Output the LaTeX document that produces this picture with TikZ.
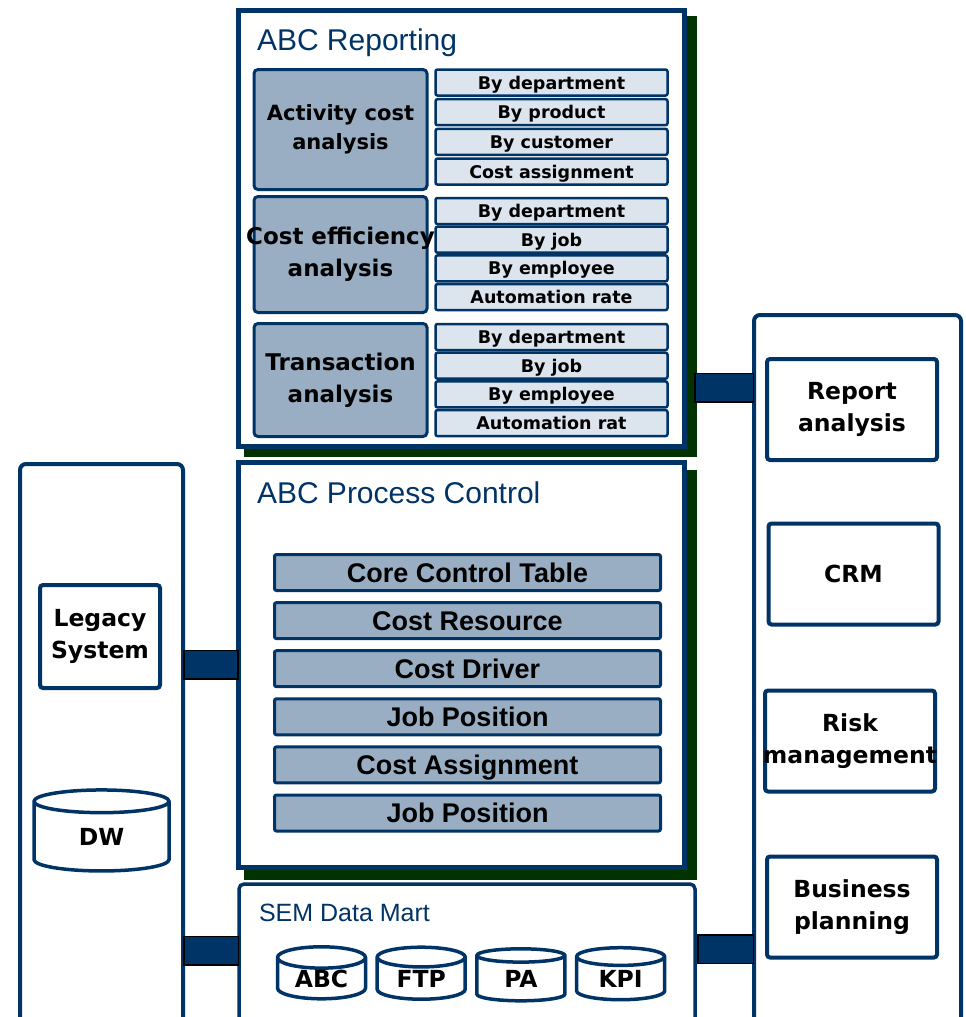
\documentclass[tikz,border=0pt]{standalone}
\usepackage{fontspec}
\setmainfont{DejaVu Sans}
\newfontfamily\tahoma{Liberation Sans}
\usetikzlibrary{shapes.geometric,backgrounds,calc}
\definecolor{navy}{RGB}{0,51,102}
\definecolor{shadowgreen}{RGB}{0,51,0}
\definecolor{greyblue}{RGB}{153,174,195}
\definecolor{paleblue}{RGB}{220,228,238}

\begin{document}
\begin{tikzpicture}[x=1pt,y=-1pt,
    every node/.style={inner sep=0pt, outer sep=0pt},
    mainbox/.style={draw=navy, line width=5pt, fill=white},
    panel/.style={draw=navy, line width=4pt, fill=white, rounded corners=6pt},
    title/.style={text=navy, font=\tahoma\fontsize{30}{36}\selectfont, anchor=base west},
    groupbox/.style={draw=navy, line width=3pt, fill=greyblue, rounded corners=4pt, align=center, minimum width=173pt},
    itembox/.style={draw=navy, line width=2.5pt, fill=paleblue, rounded corners=2pt, minimum width=232pt, minimum height=26pt, text height=17pt, text depth=4pt, font=\bfseries\fontsize{17.5}{20}\selectfont},
    barbox/.style={draw=navy, line width=3pt, fill=greyblue, rounded corners=2pt, minimum width=386pt, minimum height=36pt, text height=25.4pt, text depth=6pt, font=\tahoma\bfseries\fontsize{27}{32}\selectfont},
    sysbox/.style={draw=navy, line width=4pt, fill=white, rounded corners=3pt, minimum width=170pt, minimum height=101pt, align=center, font=\bfseries\fontsize{23.5}{32}\selectfont},
    db/.style={cylinder, shape border rotate=90, draw=navy, line width=3.5pt, fill=white, font=\bfseries\fontsize{23.5}{28}\selectfont},
    linkbar/.style={draw=navy, line width=27pt, shorten <=1.5pt, shorten >=1.5pt, preaction={draw=black, line width=30pt, shorten <=0pt, shorten >=0pt}}
]
\useasboundingbox (0,0) rectangle (966,1017);
\clip (0,0) rectangle (966,1017);

% outer panels
\node[panel, minimum width=163pt, minimum height=575pt, anchor=north west] (source) at (20,464) {};
\node[panel, minimum width=207pt, minimum height=725pt, anchor=north west] (tools) at (754,315) {};

% ABC reporting
\node[mainbox, minimum width=446pt, minimum height=436pt, anchor=north west] (rep) at (238.5,10.5) {};
\node[title] (reptitle) at (257,50) {ABC Reporting};
\node[groupbox, minimum height=120pt, font=\bfseries\fontsize{21}{29}\selectfont] (act) at (340.5,129.5) {Activity cost\\analysis};
\node[groupbox, minimum height=116pt, font=\bfseries\fontsize{23}{32}\selectfont] (eff) at (340.5,254.5) {\makebox[0pt]{Cost efficiency}\\analysis};
\node[groupbox, minimum height=113pt, font=\bfseries\fontsize{23}{32}\selectfont] (trn) at (340.5,380) {Transaction\\analysis};
\foreach \txt [count=\i from 0] in {By department,By product,By customer,Cost assignment}
    \node[itembox] (act\i) at (551.5, 82.5+29.7*\i) {\txt};
\foreach \txt [count=\i from 0] in {By department,By job,By employee,Automation rate}
    \node[itembox] (eff\i) at (551.5, 211+28.7*\i) {\txt};
\foreach \txt [count=\i from 0] in {By department,By job,By employee,Automation rat}
    \node[itembox] (trn\i) at (551.5, 337+28.7*\i) {\txt};

% ABC process control
\node[mainbox, minimum width=446pt, minimum height=405pt, anchor=north west] (proc) at (238.5,462.5) {};
\node[title] (proctitle) at (257,503) {ABC Process Control};
\foreach \txt [count=\i from 0] in {Core Control Table,Cost Resource,Cost Driver,Job Position,Cost Assignment,Job Position}
    \node[barbox] (bar\i) at (467.5, 572.5+48.1*\i) {\txt};

% SEM data mart
\node[panel, line width=3.5pt, rounded corners=5pt, minimum width=456pt, minimum height=150pt, anchor=north west] (sem) at (239,884) {};
\node[title, font=\tahoma\fontsize{25}{30}\selectfont] (semtitle) at (259,921) {SEM Data Mart};
\foreach \txt [count=\i from 0] in {ABC,FTP,PA,KPI}
    \node[db, minimum width=88pt, minimum height=52pt, aspect=0.4] (mart\i) at (321.5+99.7*\i, 979) {\txt};

% source systems
\node[sysbox, minimum width=120pt, minimum height=103pt] (legacy) at (100,636.5) {Legacy\\System};
\node[db, minimum width=135pt, minimum height=81pt, aspect=0.5] (dw) at (101.5,837) {DW};

% analysis tools
\node[sysbox] (report) at (852,409.5) {Report\\analysis};
\node[sysbox] (crm) at (853.5,574) {CRM};
\node[sysbox] (risk) at (850,741) {Risk\\\makebox[0pt]{management}};
\node[sysbox] (plan) at (852,907) {Business\\planning};

% shadows
\begin{scope}[on background layer]
    \fill[shadowgreen] ($(rep.north west)+(5,5)$) rectangle ($(rep.south east)+(12,10)$);
    \fill[shadowgreen] ($(proc.north west)+(5,7)$) rectangle ($(proc.south east)+(12,12)$);
\end{scope}

% connectors
\coordinate (l1) at (0,664.5);
\coordinate (l2) at (0,950.5);
\coordinate (r1) at (694,387.5);
\coordinate (r2) at (697,949);
\draw[linkbar] (source.east |- l1) -- (proc.west |- l1);
\draw[linkbar] (source.east |- l2) -- (sem.west |- l2);
\draw[linkbar] (r1) -- (tools.west |- r1);
\draw[linkbar] (r2) -- (tools.west |- r2);
\end{tikzpicture}
\end{document}
